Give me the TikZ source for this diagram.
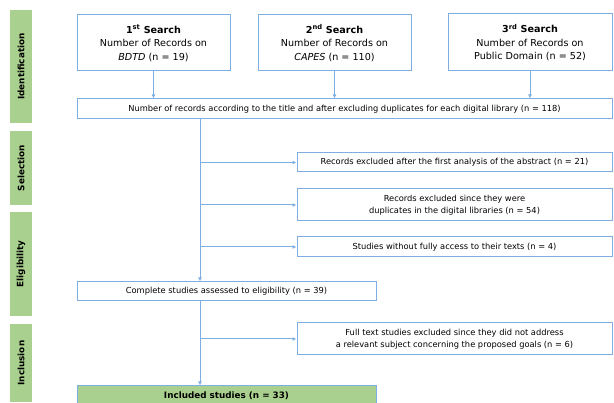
\documentclass[tikz,border=0pt]{standalone}
\usepackage{fontspec}
\setmainfont{DejaVu Sans}
\usetikzlibrary{arrows.meta,positioning}
\definecolor{flowblue}{HTML}{7FAEE2}
\definecolor{phasegreen}{HTML}{A9D08E}

\begin{document}
\begin{tikzpicture}[x=1pt,y=-1pt,
    box/.style={draw=flowblue, line width=1pt, fill=white, align=center,
                inner sep=0pt, font=\fontsize{8.3}{12}\selectfont},
    searchbox/.style={box, font=\fontsize{9.6}{13.5}\selectfont},
    phase/.style={fill=phasegreen, rotate=90, inner sep=0pt,
                  minimum height=22pt, font=\bfseries\fontsize{8.8}{10}\selectfont},
    link/.style={draw=flowblue, line width=1pt, -{Latex[length=4pt,width=4pt]}}]

    \useasboundingbox (0,0) rectangle (614,403);

    % Phases
    \node[phase, minimum width=113pt] (ident) at (21,66.5) {Identification};
    \node[phase, minimum width=74pt]  (sel)   at (21,168)  {Selection};
    \node[phase, minimum width=104pt] (elig)  at (21,264)  {Eligibility};
    \node[phase, minimum width=78pt]  (incl)  at (21,363)  {Inclusion};

    % Searches
    \node[searchbox, minimum width=153pt, minimum height=56pt] (search1) at (153.5,43)
        {\textbf{1\textsuperscript{st} Search}\\Number of Records on\\\textit{BDTD} (n = 19)};
    \node[searchbox, minimum width=153pt, minimum height=56pt] (search2) at (334.5,43)
        {\textbf{2\textsuperscript{nd} Search}\\Number of Records on\\\textit{CAPES} (n = 110)};
    \node[searchbox, minimum width=164pt, minimum height=57pt] (search3) at (530,42.5)
        {\textbf{3\textsuperscript{rd} Search}\\Number of Records on\\Public Domain (n = 52)};

    % Records after duplicates
    \node[box, minimum width=535pt, minimum height=20pt] (records) at (344.5,109)
        {Number of records according to the title and after excluding duplicates for each digital library (n = 118)};

    % Exclusions
    \node[box, minimum width=315pt, minimum height=19pt] (excl1) at (454.5,162.5)
        {Records excluded after the first analysis of the abstract (n = 21)};
    \node[box, minimum width=315pt, minimum height=32pt] (excl2) at (454.5,205)
        {Records excluded since they were\\duplicates in the digital libraries (n = 54)};
    \node[box, minimum width=315pt, minimum height=20pt] (excl3) at (454.5,247)
        {Studies without fully access to their texts (n = 4)};

    % Eligibility
    \node[box, minimum width=299pt, minimum height=19pt] (complete) at (226.5,291.5)
        {Complete studies assessed to eligibility (n = 39)};
    \node[box, minimum width=315pt, minimum height=32pt] (excl4) at (454.5,339)
        {Full text studies excluded since they did not address\\a relevant subject concerning the proposed goals (n = 6)};

    % Included
    \node[box, fill=phasegreen, minimum width=299pt, minimum height=20pt,
          font=\bfseries\fontsize{8.8}{10}\selectfont] (included) at (226.5,396)
        {Included studies (n = 33)};

    % Connectors
    \coordinate (spine) at (200,0);
    \foreach \s in {search1,search2,search3}
        \draw[link] (\s.south) -- (records.north -| \s.south);
    \draw[link] (records.south -| spine) -- (complete.north -| spine);
    \foreach \e in {excl1,excl2,excl3}
        \draw[link] (\e.west -| spine) -- (\e.west);
    \draw[link] (complete.south -| spine) -- (included.north -| spine);
    \draw[link] (excl4.west -| spine) -- (excl4.west);

\end{tikzpicture}
\end{document}
